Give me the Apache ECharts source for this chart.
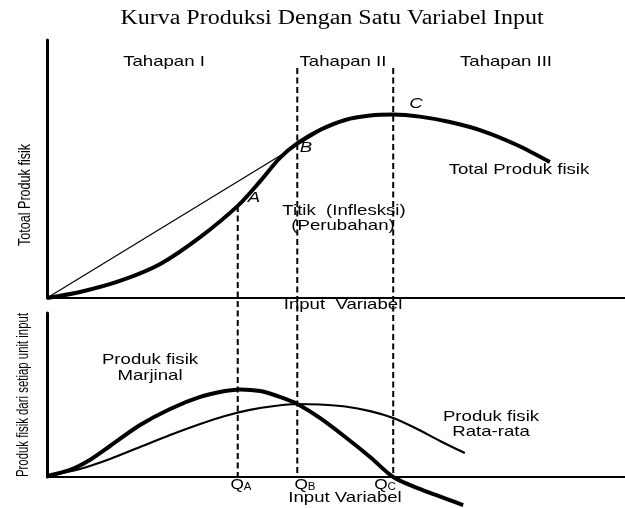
<!DOCTYPE html>
<html><head><meta charset="utf-8">
<script src="https://cdn.jsdelivr.net/npm/echarts@6/dist/echarts.min.js"></script>
<style>html,body{margin:0;padding:0;background:#fff}#c{width:625px;height:508px}</style>
</head><body><div id="c"></div>
<script>
// Total product (top panel), input units 0..100, output units 0..100
const tpX = [0, 5.7, 12.6, 19.6, 26.5, 33.0, 36.9, 40.3, 43.4, 47.2, 51.6, 55.9, 59.9, 64.5, 69.7, 75.4, 81.3, 87.0];
const tpY = [0, 2.3, 6.6, 13.2, 23.6, 35.7, 45.3, 54.3, 60.1, 65.1, 69.0, 70.7, 71.1, 70.3, 68.2, 64.7, 59.3, 52.7];
// Tangent ray from the origin
const rayX = [0, 49.3];
const rayY = [0, 67.4];
// Marginal product (bottom panel)
const mpX = [0, 4.0, 7.4, 10.9, 16.1, 21.3, 26.5, 30.8, 33.4, 36.9, 40.3, 43.3, 47.2, 51.6, 55.9, 59.9, 64.5, 72.0];
const mpY = [0.6, 4.3, 10.4, 18.9, 31.7, 41.5, 48.8, 52.4, 53.4, 52.4, 48.8, 44.5, 36.0, 24.4, 12.2, 0, -7.3, -17.1];
// Average product (bottom panel)
const apX = [0, 5.7, 10.9, 16.1, 21.3, 26.5, 30.8, 35.1, 39.4, 43.3, 47.2, 51.6, 55.9, 59.9, 63.7, 68.0, 72.3];
const apY = [0.6, 4.9, 11.0, 18.3, 25.6, 32.3, 37.2, 40.9, 43.3, 44.5, 44.2, 43.0, 40.2, 36.0, 29.9, 22.0, 14.6];
// Stage boundaries Q_A, Q_B, Q_C and where their dashed lines start (top-panel units)
const qX = [33.0, 43.3, 59.9];
const qTop = [35.7, 89.1, 89.1];
const qNames = ['A', 'B', 'C'];
const stageNames = ['Tahapan I', 'Tahapan II', 'Tahapan III'];

const zip = (a, b) => a.map((v, i) => [v, b[i]]);

// layout
const L = 47, W = 578;
const topG = {top: 40, height: 258};
const botG = {top: 313, height: 164};
const extBottom = -((botG.top + botG.height) - (topG.top + topG.height)) / topG.height * 100;

const SANS = '"Liberation Sans", Arial, sans-serif';
const SX = 1.24;
const blk = '#000';
function txt(x, y, text, font, extra) {
  return Object.assign({type: 'text', x: x, y: y, z: 100, scaleX: SX,
    style: {text: text, font: font, fill: blk, textAlign: 'center', textVerticalAlign: 'middle', align: 'center', verticalAlign: 'middle'}}, extra || {});
}

const axisBase = (w) => ({type: 'value', min: 0, max: 100,
  axisLine: {show: true, onZero: false, lineStyle: {color: blk, width: w}},
  axisTick: {show: false}, axisLabel: {show: false}, splitLine: {show: false}});

const series = [];
qX.forEach((x, i) => series.push({type: 'line', xAxisIndex: 0, yAxisIndex: 0, clip: false, symbol: 'none', silent: true,
  data: [[x, qTop[i]], [x, extBottom]], lineStyle: {color: blk, width: 2, type: [6, 3.5]}, z: 1}));
series.push({type: 'line', xAxisIndex: 0, yAxisIndex: 0, symbol: 'none', data: zip(rayX, rayY), lineStyle: {color: blk, width: 1.2}, z: 2});
series.push({type: 'line', xAxisIndex: 0, yAxisIndex: 0, symbol: 'none', smooth: 0.3, data: zip(tpX, tpY), lineStyle: {color: blk, width: 4}, z: 3});
series.push({type: 'line', xAxisIndex: 1, yAxisIndex: 1, symbol: 'none', smooth: 0.3, data: zip(apX, apY), lineStyle: {color: blk, width: 2.2}, z: 2});
series.push({type: 'line', xAxisIndex: 1, yAxisIndex: 1, symbol: 'none', smooth: 0.3, clip: false, data: zip(mpX, mpY), lineStyle: {color: blk, width: 4}, z: 3});

const stageX = [164, 343, 506];
const qLabelX = [241, 305, 385];
const graphic = [
  txt(332, 19, 'Kurva Produksi Dengan Satu Variabel Input', '20px "Liberation Serif", serif', {scaleX: 1.2}),
  ...stageNames.map((s, i) => txt(stageX[i], 62, s, '15px ' + SANS)),
  txt(254, 198, 'A', 'italic 15px ' + SANS),
  txt(306, 148, 'B', 'italic 15px ' + SANS),
  txt(416, 104, 'C', 'italic 15px ' + SANS),
  txt(344, 211, 'Titik  (Inflesksi)', '15px ' + SANS),
  txt(343, 226, '(Perubahan)', '15px ' + SANS),
  txt(519, 170, 'Total Produk fisik', '15px ' + SANS),
  txt(343, 305, 'Input  Variabel', '15px ' + SANS),
  txt(150, 360, 'Produk fisik', '15px ' + SANS),
  txt(150, 376, 'Marjinal', '15px ' + SANS),
  txt(491, 417, 'Produk fisik', '15px ' + SANS),
  txt(491, 432, 'Rata-rata', '15px ' + SANS),
  txt(345, 498, 'Input Variabel', '15px ' + SANS),
  txt(25, 195, 'Totoal Produk fisik', '15px ' + SANS, {rotation: Math.PI / 2, scaleX: 0.84, scaleY: 1.15}),
  txt(23, 395, 'Produk fisik dari setiap unit input', '15px ' + SANS, {rotation: Math.PI / 2, scaleX: 0.76, scaleY: 1.15}),
  ...qNames.map((n, i) => ({type: 'text', x: qLabelX[i], y: 485, z: 100, scaleX: 1.15,
    style: {text: '{q|Q}{s|' + n + '}', fill: blk, textAlign: 'center', textVerticalAlign: 'middle', align: 'center', verticalAlign: 'middle',
      rich: {q: {font: '15px ' + SANS, fill: blk, verticalAlign: 'bottom'}, s: {font: '10px ' + SANS, fill: blk, verticalAlign: 'bottom'}}}}))
];

const chart = echarts.init(document.getElementById('c'), null, {renderer: 'canvas'});
chart.setOption({
  animation: false,
  backgroundColor: '#fff',
  grid: [
    {left: L, width: W, top: topG.top, height: topG.height},
    {left: L, width: W, top: botG.top, height: botG.height}
  ],
  xAxis: [Object.assign(axisBase(2), {gridIndex: 0}), Object.assign(axisBase(2), {gridIndex: 1})],
  yAxis: [Object.assign(axisBase(3), {gridIndex: 0}), Object.assign(axisBase(3), {gridIndex: 1})],
  series: series,
  graphic: graphic
});
</script></body></html>
